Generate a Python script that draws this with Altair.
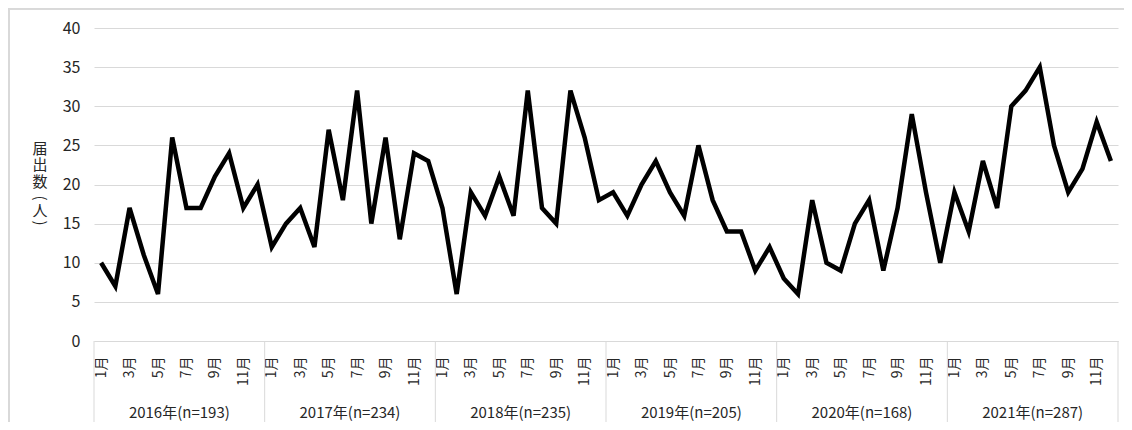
import json
import altair as alt
import pandas as pd

years = ["2016年(n=193)", "2017年(n=234)", "2018年(n=235)", "2019年(n=205)", "2020年(n=168)", "2021年(n=287)"]
month_labels = ["1月", "2月", "3月", "4月", "5月", "6月", "7月", "8月", "9月", "10月", "11月", "12月"]
v2016 = [10, 7, 17, 11, 6, 26, 17, 17, 21, 24, 17, 20]
v2017 = [12, 15, 17, 12, 27, 18, 32, 15, 26, 13, 24, 23]
v2018 = [17, 6, 19, 16, 21, 16, 32, 17, 15, 32, 26, 18]
v2019 = [19, 16, 20, 23, 19, 16, 25, 18, 14, 14, 9, 12]
v2020 = [8, 6, 18, 10, 9, 15, 18, 9, 17, 29, 19, 10]
v2021 = [19, 14, 23, 17, 30, 32, 35, 25, 19, 22, 28, 23]
y_title = ["届", "出", "数", "(", "人", ")"]

series = [v2016, v2017, v2018, v2019, v2020, v2021]
rows = []
for yi, (yl, vals) in enumerate(zip(years, series)):
    for mi, v in enumerate(vals):
        rows.append({"idx": yi * 12 + mi, "value": v, "year": yl, "month": month_labels[mi]})
df = pd.DataFrame(rows)
df_year = pd.DataFrame({"center": [yi * 12 + 5.5 for yi in range(len(years))], "label": years})
df_sep = pd.DataFrame({"pos": [yi * 12 - 0.5 for yi in range(len(years) + 1)]})

# layout of the stacked (vertical) y-axis title, pixel offsets inside the plot
title_offsets = [121, 137, 154, 170, 183, 195]
df_title = pd.DataFrame({"ch": y_title, "off": title_offsets,
                         "rot": [c in "()" for c in y_title]})

W, H = 1024, 313
FONT = "Noto Sans CJK JP"
GRID = "#d9d9d9"
TXT = "#262626"
xscale = alt.Scale(domain=[-0.5, 71.5], nice=False, zero=False)

label_expr = json.dumps(month_labels, ensure_ascii=False) + "[datum.value % 12]"
x_axis = alt.Axis(values=list(range(0, 72, 2)),
                  labelExpr=label_expr,
                  labelAngle=270, labelFontSize=14, labelPadding=15,
                  labelColor=TXT, labelFlush=False, labelOverlap=False,
                  labelBound=False, ticks=False, grid=False,
                  domainColor=GRID, domainWidth=1, title=None)

line = alt.Chart(df).mark_line(color="black", strokeWidth=4.5).encode(
    x=alt.X("idx:Q", scale=xscale, axis=x_axis),
    y=alt.Y("value:Q", scale=alt.Scale(domain=[0, 40], nice=False),
            axis=alt.Axis(values=list(range(0, 41, 5)), grid=True, gridColor=GRID,
                          gridWidth=1, domain=False, ticks=False, labelFontSize=16,
                          labelPadding=14, labelColor=TXT, title=None)),
)

year_text = alt.Chart(df_year).mark_text(fontSize=15, color=TXT, baseline="middle").encode(
    x=alt.X("center:Q", scale=xscale, axis=x_axis),
    y=alt.value(385),
    text="label:N",
)

seps = alt.Chart(df_sep).mark_rule(color=GRID, strokeWidth=1).encode(
    x=alt.X("pos:Q", scale=xscale, axis=x_axis),
    y=alt.value(H),
    y2=alt.value(H + 81),
)

border_left = alt.Chart(df_year).mark_rule(color=GRID, strokeWidth=1.5).encode(
    x=alt.value(-85.2), y=alt.value(-19.2), y2=alt.value(H + 81)
)
border_top = alt.Chart(df_year).mark_rule(color=GRID, strokeWidth=1.5).encode(
    x=alt.value(-85.2), x2=alt.value(W + 6), y=alt.value(-19.2)
)

ident = alt.Scale(domain=[0, H], range=[0, H])
ytitle_chars = alt.Chart(df_title).transform_filter("!datum.rot").mark_text(
    fontSize=15, color=TXT, baseline="middle", align="center").encode(
    x=alt.value(-54),
    y=alt.Y("off:Q", scale=ident, axis=None),
    text="ch:N",
)
ytitle_paren = alt.Chart(df_title).transform_filter("datum.rot").mark_text(
    fontSize=15, color=TXT, baseline="middle", align="center", angle=90).encode(
    x=alt.value(-54),
    y=alt.Y("off:Q", scale=ident, axis=None),
    text="ch:N",
)

main = alt.layer(line, seps, year_text, border_left, border_top)
chart = alt.layer(main, ytitle_chars, ytitle_paren).resolve_scale(
    y="independent"
).properties(
    width=W, height=H,
    autosize=alt.AutoSizeParams(type="none"),
    padding={"left": 86, "top": 20, "right": 6, "bottom": 81},
).configure(font=FONT).configure_view(stroke=None)

chart.save("out.html", embed_options={"renderer": "svg", "actions": False})
